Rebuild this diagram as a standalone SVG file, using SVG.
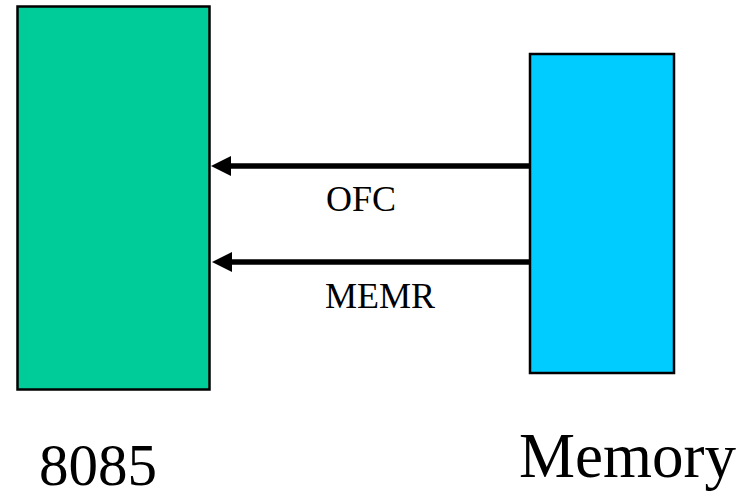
<svg xmlns="http://www.w3.org/2000/svg" width="754" height="498" viewBox="0 0 754 498">
<defs>
<style>
.box{stroke:#000;stroke-width:2.5}
.wire{stroke:#000;stroke-width:5.5;fill:none}
.head{fill:#000}
.lbl{font-family:"Liberation Serif","Times New Roman",serif;fill:#000}
</style>
</defs>
<rect width="754" height="498" fill="#fff"/>
<g id="cpu">
<rect class="box" x="17.5" y="6.5" width="192" height="383" fill="#00cc99"/>
<text class="lbl" x="39" y="485" font-size="59">8085</text>
</g>
<g id="memory">
<rect class="box" x="530" y="54" width="144" height="319" fill="#00ccff"/>
<text class="lbl" x="519" y="477" font-size="63">Memory</text>
</g>
<g id="connectors">
<line class="wire" x1="530" y1="166" x2="228" y2="166"/>
<polygon class="head" points="211,166 231,156 231,176"/>
<text class="lbl" x="326" y="211" font-size="36">OFC</text>
<line class="wire" x1="530" y1="262" x2="229" y2="262"/>
<polygon class="head" points="212,262 232,252 232,272"/>
<text class="lbl" x="325" y="308" font-size="36">MEMR</text>
</g>
</svg>
